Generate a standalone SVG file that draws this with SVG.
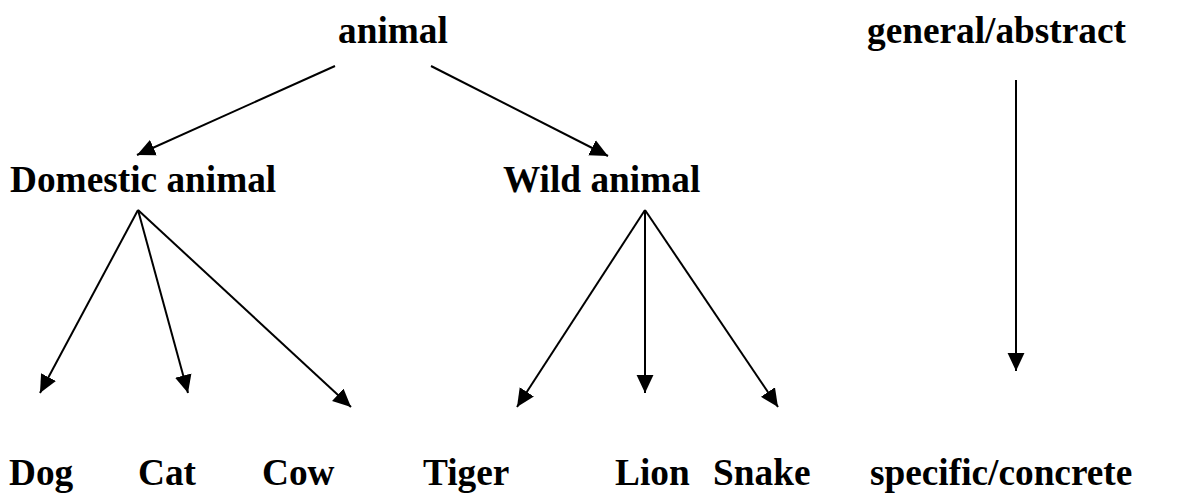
<svg xmlns="http://www.w3.org/2000/svg" width="1179" height="493" viewBox="0 0 1179 493">
<style>
.t{font-family:"Liberation Serif","Times New Roman",serif;font-weight:bold;font-size:37.3px;fill:#000}
.c line{stroke:#000;stroke-width:2;marker-end:url(#ah)}
</style>
<defs>
<marker id="ah" markerUnits="userSpaceOnUse" markerWidth="18" markerHeight="18" viewBox="0 0 16 16" refX="16" refY="8" orient="auto">
<path d="M0,0.5 L16,8 L0,15.5 Z" fill="#000"/>
</marker>
</defs>
<rect width="1179" height="493" fill="#fff"/>
<g class="c" id="connectors">
<line x1="335" y1="66" x2="137" y2="155"/>
<line x1="431" y1="66" x2="608" y2="156"/>
<line x1="138" y1="210" x2="40" y2="393"/>
<line x1="138" y1="210" x2="188" y2="393"/>
<line x1="138" y1="210" x2="351" y2="407"/>
<line x1="645" y1="210" x2="517" y2="407"/>
<line x1="645" y1="210" x2="645" y2="393"/>
<line x1="645" y1="210" x2="778" y2="407"/>
<line x1="1016" y1="80" x2="1016" y2="371"/>
</g>
<g id="animal"><text class="t" x="338" y="43">animal</text></g>
<g id="general"><text class="t" x="867" y="43">general/abstract</text></g>
<g id="domestic"><text class="t" x="10" y="192">Domestic animal</text></g>
<g id="wild"><text class="t" x="503" y="192">Wild animal</text></g>
<g id="dog"><text class="t" x="9" y="485">Dog</text></g>
<g id="cat"><text class="t" x="138" y="485">Cat</text></g>
<g id="cow"><text class="t" x="262" y="485">Cow</text></g>
<g id="tiger"><text class="t" x="423" y="485">Tiger</text></g>
<g id="lion"><text class="t" x="615" y="485">Lion</text></g>
<g id="snake"><text class="t" x="713" y="485">Snake</text></g>
<g id="specific"><text class="t" x="870" y="485">specific/concrete</text></g>
</svg>
